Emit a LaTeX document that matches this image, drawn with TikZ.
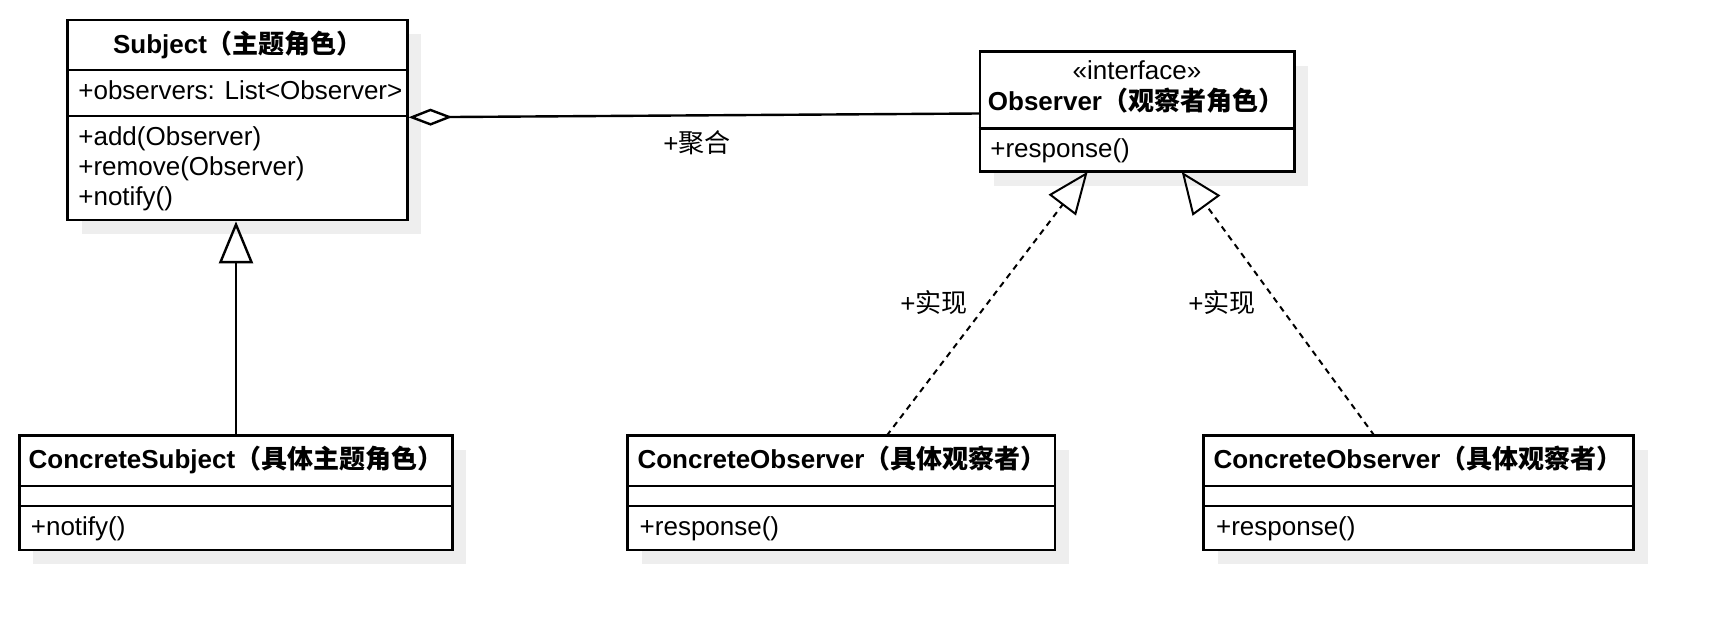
\documentclass[tikz,border=0pt]{standalone}
\usepackage{fontspec}
\setmainfont{Liberation Sans}
\newfontfamily\cjk{Noto Sans CJK SC}
\usetikzlibrary{arrows.meta,shadows}
\definecolor{shadowgray}{RGB}{238,238,238}
\newcommand\zh[1]{{\cjk #1}}
\tikzset{
 classbox/.style={draw, line width=1.35pt, fill=white, inner sep=0pt,
   drop shadow={shadow xshift=7pt, shadow yshift=-7pt, fill=shadowgray, opacity=1}},
 sepline/.style={line width=1.35pt},
 txt/.style={font=\fontsize{13pt}{15pt}\selectfont, inner sep=0pt, anchor=base west},
 ttl/.style={font=\fontsize{13pt}{15pt}\selectfont\bfseries, inner sep=0pt, anchor=base},
 lbl/.style={font=\fontsize{13pt}{15pt}\selectfont, inner sep=0pt, anchor=base},
 assoc/.style={line width=1.2pt, {Diamond[open,length=22pt,width=8.5pt]}-},
 realize/.style={line width=1pt, dash pattern=on 3pt off 2.5pt, -{Triangle[open,length=21pt,width=17pt]}},
 gener/.style={line width=1.2pt, -{Triangle[open,length=21pt,width=17pt]}},
}
\begin{document}
\begin{tikzpicture}[x=0.5pt,y=-0.5pt]
\path[use as bounding box, fill=white] (0,0) rectangle (1710,630);

% Subject
\node[classbox, minimum width=169.8pt, minimum height=100pt] (subj) at (237.5,120) {};
\draw[sepline] (subj.west |- 0,70) -- (subj.east |- 0,70);
\draw[sepline] (subj.west |- 0,116) -- (subj.east |- 0,116);
\node[ttl] (subjt) at (238,53.3) {Subject\zh{（主题角色）}};
\node[txt] (subja) at (78,99.3) {+observers: List<Observer>};
\node[txt] (subjm1) at (78,146) {+add(Observer)};
\node[txt] (subjm2) at (78,176) {+remove(Observer)};
\node[txt] (subjm3) at (78,206) {+notify()};

% Observer
\node[classbox, minimum width=157.15pt, minimum height=60pt] (obs) at (1137.2,111.7) {};
\draw[sepline] (obs.west |- 0,128.3) -- (obs.east |- 0,128.3);
\node[lbl] (obsst) at (1137,80) {«interface»};
\node[ttl] (obst) at (1136,111) {Observer\zh{（观察者角色）}};
\node[txt] (obsm) at (990,157.5) {+response()};

% ConcreteSubject
\node[classbox, minimum width=216.5pt, minimum height=57.15pt] (cs) at (235.8,492.85) {};
\draw[sepline] (cs.west |- 0,486) -- (cs.east |- 0,486);
\draw[sepline] (cs.west |- 0,506) -- (cs.east |- 0,506);
\node[ttl] (cst) at (236,469) {ConcreteSubject\zh{（具体主题角色）}};
\node[txt] (csm) at (30.5,535.5) {+notify()};

% ConcreteObserver 1
\node[classbox, minimum width=213.65pt, minimum height=57.15pt] (coa) at (841.35,492.85) {};
\draw[sepline] (coa.west |- 0,486) -- (coa.east |- 0,486);
\draw[sepline] (coa.west |- 0,506) -- (coa.east |- 0,506);
\node[ttl] (coat) at (842,469) {ConcreteObserver\zh{（具体观察者）}};
\node[txt] (coam) at (639.3,535.5) {+response()};

% ConcreteObserver 2
\node[classbox, minimum width=214.9pt, minimum height=57.15pt] (cob) at (1418.7,492.85) {};
\draw[sepline] (cob.west |- 0,486) -- (cob.east |- 0,486);
\draw[sepline] (cob.west |- 0,506) -- (cob.east |- 0,506);
\node[ttl] (cobt) at (1418,469) {ConcreteObserver\zh{（具体观察者）}};
\node[txt] (cobm) at (1215.7,535.5) {+response()};

% connectors
\coordinate (aggL) at (408.5,117.3);
\coordinate (aggR) at (980,113.5);
\draw[assoc] (aggL) -- (aggR);
\node[lbl] (agglbl) at (697,152.5) {+\zh{聚合}};

\draw[gener] (cs.north -| 236,0) -- (subj.south -| 236,0);

\coordinate (r1s) at (886.7,435.7);
\coordinate (r1e) at (1087.7,171.7);
\draw[realize] (r1s) -- (r1e);
\node[lbl] (r1lbl) at (934,313) {+\zh{实现}};

\coordinate (r2s) at (1374.4,435.7);
\coordinate (r2e) at (1181.7,171.7);
\draw[realize] (r2s) -- (r2e);
\node[lbl] (r2lbl) at (1222,313) {+\zh{实现}};
\end{tikzpicture}
\end{document}
